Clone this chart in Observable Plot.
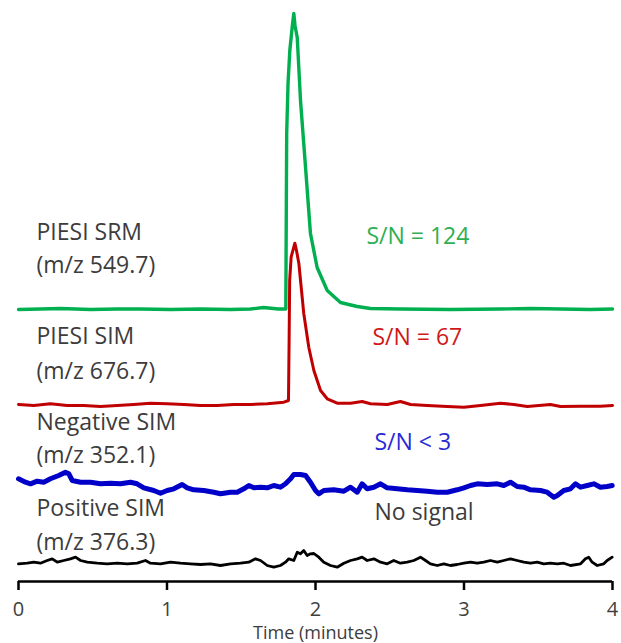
<!DOCTYPE html>
<html>
<head>
<meta charset="utf-8">
<script src="https://cdn.jsdelivr.net/npm/d3@7"></script>
<script src="https://cdn.jsdelivr.net/npm/@observablehq/plot@0.6"></script>
<style>
  html, body { margin: 0; padding: 0; background: #fff; }
  #chart svg { display: block; font-family: "Open Sans", sans-serif; }
  #chart [aria-label="x-axis tick"] { stroke: #000; stroke-width: 2.5px; }
  #chart [aria-label="x-axis tick label"] { fill: #404040; }
</style>
</head>
<body>
<div id="chart"></div>
<script>
// ---- Data (time in minutes, intensity above each trace's baseline, arbitrary units) ----
const xTicks = [0, 1, 2, 3, 4];
const xTitle = "Time (minutes)";

const traceNames = ["PIESI SRM", "PIESI SIM", "Negative SIM", "Positive SIM"];
const traceMz = ["(m/z 549.7)", "(m/z 676.7)", "(m/z 352.1)", "(m/z 376.3)"];
const snLabels = ["S/N = 124", "S/N = 67", "S/N < 3", "No signal"];

const srmTrace = [
  [0,0],[0.148,0.5],[0.283,1],[0.485,0],[0.663,0.5],[0.822,0.5],[1.024,0],[1.226,0.5],[1.428,0],
  [1.563,0.5],[1.650,2],[1.751,0.5],[1.800,0.5],[1.806,176],[1.815,226],[1.827,259],[1.836,272],
  [1.845,285],[1.854,296],[1.862,284],[1.877,272],[1.899,209],[1.933,142],[1.966,76],[2.011,42],
  [2.079,19],[2.168,7],[2.281,3],[2.370,1],[2.572,0.5],[2.909,0],[3.246,0.5],[3.448,1],[3.650,0.5],
  [3.852,0],[4.0,0.5]
];
const simTrace = [
  [0,0.5],[0.103,-0.5],[0.215,1.2],[0.328,-0.5],[0.440,-0.5],[0.552,-1.5],[0.665,-0.5],[0.776,0.5],
  [0.889,1.8],[1.001,1.2],[1.113,0.5],[1.226,-0.5],[1.338,-0.5],[1.450,0.5],[1.562,0.5],[1.675,1.2],
  [1.787,2.8],[1.818,4.5],[1.822,60],[1.826,124.5],[1.836,148],[1.861,161.8],[1.872,154.5],
  [1.888,141.5],[1.921,91.5],[1.955,57.5],[1.989,34.5],[2.034,14.5],[2.079,6.2],[2.146,1.8],
  [2.236,1.8],[2.314,3.5],[2.370,1.2],[2.483,0.5],[2.572,3.5],[2.640,0.5],[2.752,-0.5],[2.887,-1.5],
  [2.999,-2.2],[3.111,-0.5],[3.246,1.8],[3.335,0.5],[3.426,-1.5],[3.582,0.5],[3.650,-1.5],
  [3.785,-1.2],[3.919,-1.2],[4.0,-0.5]
];
const negTrace = [
  [0,7.7],[0.047,4.3],[0.081,2.7],[0.126,5.3],[0.170,4.3],[0.215,7.7],[0.271,11],[0.316,14.3],
  [0.339,12.7],[0.362,6],[0.418,4.3],[0.485,4.3],[0.552,2.7],[0.620,3.3],[0.687,2.7],[0.754,4.3],
  [0.799,2.7],[0.844,-1.3],[0.911,-4],[0.956,-6.7],[1.001,-4],[1.046,-2.3],[1.102,2],[1.136,-1.3],
  [1.180,-3.3],[1.248,-4],[1.315,-5.7],[1.360,-7.3],[1.428,-5.7],[1.473,-5.7],[1.517,-2.3],
  [1.551,1],[1.585,-1.3],[1.630,-0.7],[1.675,-1.3],[1.719,1],[1.764,-0.7],[1.798,2.7],[1.832,7.7],
  [1.854,12],[1.899,12],[1.933,11],[1.966,4.3],[2.000,-4],[2.022,-7.3],[2.056,-4],[2.123,-3.3],
  [2.191,-4.7],[2.236,-0.7],[2.281,-5.7],[2.314,2.7],[2.348,-2.3],[2.393,-0.7],[2.438,2.7],
  [2.483,-1.3],[2.550,-2.3],[2.618,-3.3],[2.685,-4],[2.752,-4.7],[2.820,-5.7],[2.887,-5.7],
  [2.954,-3.3],[2.999,-1.3],[3.044,1],[3.089,2.7],[3.156,2],[3.224,2.7],[3.268,1],[3.313,4.3],
  [3.358,0],[3.403,-0.7],[3.448,-3.3],[3.515,-4],[3.560,-5.7],[3.605,-10.7],[3.628,-9],[3.672,-4],
  [3.717,-2.3],[3.751,2.7],[3.785,-0.7],[3.830,1],[3.874,2.7],[3.919,-0.7],[3.964,0],[3.998,1]
];
const posTrace = [
  [0,-1.3],[0.059,-0.7],[0.103,0.3],[0.148,-0.7],[0.193,2],[0.227,3.7],[0.261,0.3],[0.305,2],
  [0.350,3.7],[0.384,5.3],[0.418,2],[0.463,0.3],[0.530,-0.7],[0.597,-1.3],[0.665,-0.7],[0.732,-1.3],
  [0.799,-0.7],[0.855,2],[0.889,-0.7],[0.956,-1.3],[1.024,0.3],[1.091,-0.7],[1.158,-1.3],[1.226,-2],
  [1.293,-1.3],[1.360,-3],[1.428,-1.3],[1.495,-0.7],[1.551,0.3],[1.596,3.7],[1.630,2],[1.675,-3],
  [1.719,-4.7],[1.764,-3],[1.798,0.3],[1.820,3.7],[1.854,2],[1.877,10.3],[1.899,8.7],[1.921,12],
  [1.944,7],[1.966,8.7],[1.989,9],[2.022,5.3],[2.056,0.3],[2.101,-3],[2.146,-4.7],[2.191,-0.7],
  [2.236,2],[2.281,3.7],[2.314,5.3],[2.348,2],[2.393,3.7],[2.438,0.3],[2.483,-1.3],[2.527,2],
  [2.572,-0.7],[2.617,0.3],[2.662,2],[2.707,5.3],[2.741,2],[2.774,-1.3],[2.820,-3],[2.864,-1.3],
  [2.909,-3],[2.954,-2],[2.999,-0.7],[3.044,0.3],[3.089,-0.7],[3.133,0.3],[3.178,2],[3.224,0.3],
  [3.268,2],[3.313,3.7],[3.358,2],[3.403,0.3],[3.448,-0.7],[3.493,0.3],[3.537,-1.3],[3.582,-0.7],
  [3.628,-1.3],[3.672,-0.7],[3.717,-3],[3.785,-1.3],[3.818,3.7],[3.840,5.3],[3.863,0.3],[3.897,-3],
  [3.941,-1.3],[3.964,2],[3.998,5.3]
];

// ---- Layout / style (not data) ----
const W = 621, H = 643;
const plotBottom = 581;            // pixel row of the time axis
const baselines = [272, 176.5, 95, 19]; // vertical stacking offset of each trace (y units)
const colors = ["#00b050", "#c00000", "#0000c8", "#000000"];
const widths = [3.4, 3, 5, 2.8];
const textColors = ["#2fae52", "#d01818", "#2a2ad6", "#3c3c3c"];

const traces = [srmTrace, simTrace, negTrace, posTrace];
const rows = traces.flatMap((tr, k) => tr.map(([t, v]) => ({k, t, y: baselines[k] + v})));

// label positions (pixels from the frame's top-left)
const nameY = [[232, 265], [336, 371], [422, 455], [508, 542]];
const snPos = [[348, 236], [354, 337], [356, 442], [356, 512]];

const textMark = (str, dx, dy, opts = {}) =>
  Plot.text([str], {text: d => d, frameAnchor: "top-left", dx, dy, textAnchor: "start",
    lineAnchor: "middle", fontSize: 23, fill: "#3c3c3c", ...opts});

const marks = [];
[3, 2, 1, 0].forEach(k => {
  marks.push(Plot.line(rows.filter(r => r.k === k), {
    x: "t", y: "y", stroke: colors[k], strokeWidth: widths[k],
    strokeLinejoin: "round", strokeLinecap: "round"
  }));
});
traceNames.forEach((n, k) => {
  marks.push(textMark(n, 18, nameY[k][0]));
  marks.push(textMark(traceMz[k], 18, nameY[k][1]));
  marks.push(textMark(snLabels[k], snPos[k][0], snPos[k][1], {fill: textColors[k]}));
});
marks.push(Plot.ruleY([0], {stroke: "#000", strokeWidth: 2.5}));
marks.push(Plot.axisX(xTicks, {tickSize: 9, tickPadding: 11, fontSize: 20, tickFormat: d => String(d), label: null}));
marks.push(Plot.text([xTitle], {text: d => d, frameAnchor: "bottom", dy: 52, lineAnchor: "middle",
  fontSize: 18, fill: "#3c3c3c"}));

const chart = Plot.plot({
  width: W, height: H,
  marginLeft: 18, marginRight: 9, marginTop: 0, marginBottom: H - plotBottom,
  x: {domain: [0, 4]},
  y: {domain: [0, plotBottom], axis: null},
  marks
});
document.getElementById("chart").appendChild(chart);
</script>
</body>
</html>
